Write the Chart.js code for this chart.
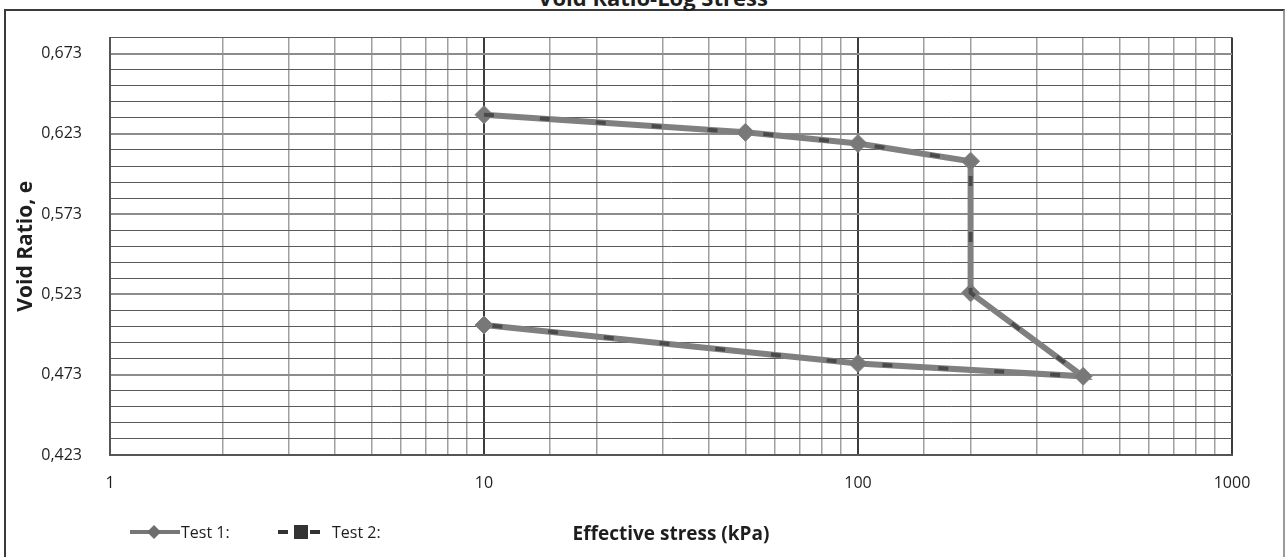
<!DOCTYPE html>
<html>
<head>
<meta charset="utf-8">
<title>Void Ratio-Log Stress</title>
<script src="https://cdn.jsdelivr.net/npm/chart.js@4.4.1/dist/chart.umd.min.js"></script>
<style>
  body { margin: 0; background: #fff; font-family: "Open Sans", Lato, sans-serif; color: #1e1e1e; }
  #wrap { position: relative; width: 1286px; height: 557px; overflow: hidden; background: #fff; }
  #frame { position: absolute; left: 4px; top: 9px; width: 1277px; height: 560px;
           border: 2px solid #3a3a3a; border-right-color: #9a9a9a; }
  #title { position: absolute; top: -14px; left: 10px; width: 1286px; text-align: center;
           font-weight: bold; font-size: 22px; line-height: 22px; }
  #chartBox { position: absolute; left: 0; top: 0; width: 1286px; height: 557px; }
  .leg { position: absolute; top: 522px; font-size: 16px; line-height: 20px; }
  .leg svg { position: absolute; top: 3px; }
</style>
</head>
<body>
<div id="wrap">
  <div id="frame"></div>
  <div id="title">Void Ratio-Log Stress</div>
  <div id="chartBox"><canvas id="ratioChart"></canvas></div>
  <div id="legend"></div>
</div>
<script>
// effective stress steps (kPa): loading, unloading, reloading
const stressKPa = [10, 50, 100, 200, 200, 400, 100, 10];
const test1Ratio = [0.635, 0.624, 0.617, 0.606, 0.524, 0.472, 0.480, 0.504];
const test2Ratio = [0.635, 0.624, 0.617, 0.606, 0.524, 0.472, 0.480, 0.504];

const xTickLabels = ["1", "10", "100", "1000"];
const yTickLabels = ["0,423", "0,473", "0,523", "0,573", "0,623", "0,673"];
const yMin = 0.423, yMax = 0.683, yStep = 0.01;

const family = "'Open Sans', Lato, sans-serif";
const font = { family, size: 16 };

function fmtRatio(v) {
  return v.toFixed(3).replace(".", ",");
}

function points(ys) {
  return stressKPa.map((x, i) => ({ x, y: ys[i] }));
}

const yTicks = [];
for (let v = yMin; v <= yMax + 1e-9; v += yStep) yTicks.push(+v.toFixed(3));

const ctx = document.getElementById("ratioChart").getContext("2d");
const ratioChart = new Chart(ctx, {
  type: "scatter",
  data: {
    datasets: [
      {
        label: "Test 1:",
        data: points(test1Ratio),
        showLine: true,
        borderColor: "#808080",
        backgroundColor: "#787878",
        borderWidth: 6,
        pointStyle: "rectRot",
        pointRadius: 9,
        pointBorderWidth: 1,
        order: 1
      },
      {
        label: "Test 2:",
        data: points(test2Ratio),
        showLine: true,
        borderColor: "#4a4a4a",
        borderWidth: 4,
        borderDash: [10, 46],
        pointStyle: "rect",
        pointRadius: 0,
        order: 0
      }
    ]
  },
  options: {
    responsive: true,
    maintainAspectRatio: false,
    animation: false,
    layout: { padding: { left: 10, right: 54, top: 36, bottom: 0 } },
    plugins: {
      legend: { display: false },
      tooltip: { enabled: false }
    },
    scales: {
      x: {
        type: "logarithmic",
        min: 1,
        max: 1000,
        afterFit(s) { s.height = 102; },
        ticks: {
          autoSkip: false,
          maxRotation: 0,
          padding: 19,
          color: "#1e1e1e",
          font,
          callback: v => xTickLabels.includes(String(v)) ? String(v) : ""
        },
        grid: {
          drawTicks: false,
          color: c => xTickLabels.includes(String(c.tick.value)) ? "#3c3c3c" : "#a0a0a0",
          lineWidth: c => xTickLabels.includes(String(c.tick.value)) ? 2 : 1.5
        },
        border: { color: "#555", width: 2 },
        title: {
          display: true,
          text: "Effective stress (kPa)",
          color: "#1e1e1e",
          font: { family, size: 19, weight: "bold" },
          padding: { top: 0, bottom: 11 }
        }
      },
      y: {
        min: yMin,
        max: yMax,
        afterBuildTicks(s) { s.ticks = yTicks.map(value => ({ value })); },
        afterFit(s) { s.width = 100; },
        ticks: {
          autoSkip: false,
          padding: 28,
          color: "#1e1e1e",
          font,
          callback: v => yTickLabels.includes(fmtRatio(v)) ? fmtRatio(v) : ""
        },
        grid: {
          drawTicks: false,
          color: c => yTickLabels.includes(fmtRatio(c.tick.value)) ? "#8c8c8c" : "#5a5a5a",
          lineWidth: c => yTickLabels.includes(fmtRatio(c.tick.value)) ? 2 : 1
        },
        border: { color: "#555", width: 2 },
        title: {
          display: true,
          text: "Void Ratio, e",
          color: "#1e1e1e",
          font: { family, size: 21, weight: "bold" },
          padding: { top: 3, bottom: 0 }
        }
      }
    }
  }
});

// legend row sits left of the axis title
const legend = document.getElementById("legend");
legend.innerHTML =
  '<div class="leg" style="left:130px">' +
    '<svg width="50" height="14" style="left:0"><line x1="0" y1="7" x2="50" y2="7" stroke="#777" stroke-width="4"/>' +
    '<polygon points="24,0 31,7 24,14 17,7" fill="#6e6e6e"/></svg>' +
    '<span style="position:absolute;left:51px;white-space:nowrap">' + ratioChart.data.datasets[0].label + '</span></div>' +
  '<div class="leg" style="left:278px">' +
    '<svg width="46" height="14" style="left:0"><line x1="0" y1="7" x2="46" y2="7" stroke="#333" stroke-width="4" stroke-dasharray="10,6"/>' +
    '<rect x="16" y="0" width="14" height="14" fill="#333"/></svg>' +
    '<span style="position:absolute;left:54px;white-space:nowrap">' + ratioChart.data.datasets[1].label + '</span></div>';
</script>
</body>
</html>
